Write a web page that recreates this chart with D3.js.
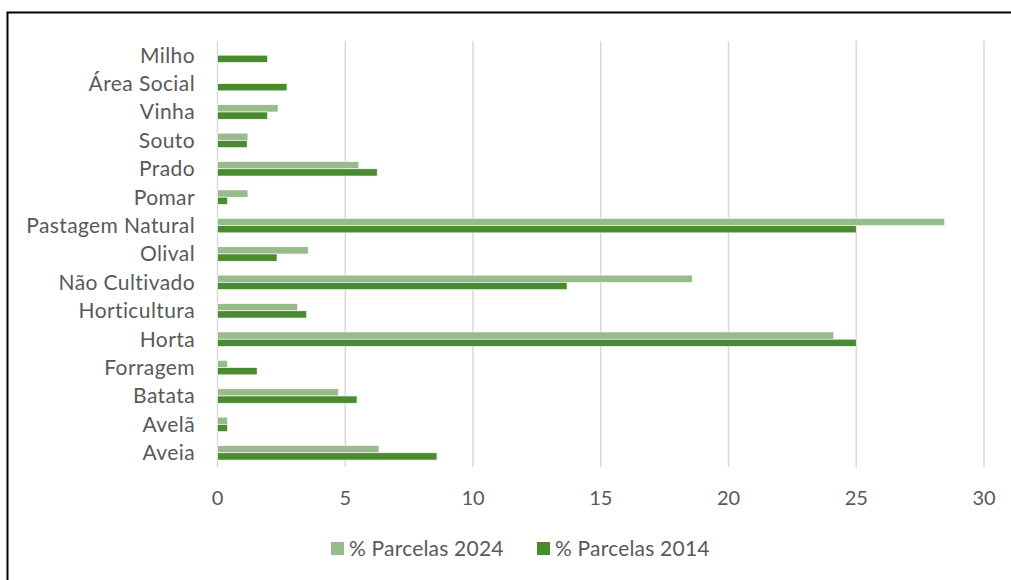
<!DOCTYPE html>
<html>
<head>
<meta charset="utf-8">
<script src="https://cdn.jsdelivr.net/npm/d3@7"></script>
<style>
  html, body { margin: 0; padding: 0; background: #fff; }
  svg { display: block; }
  text { font-family: "Lato", "Open Sans", sans-serif; fill: #595959; }
</style>
</head>
<body>
<svg id="chart" width="1011" height="580"></svg>
<script>
const categories = ["Milho", "Área Social", "Vinha", "Souto", "Prado", "Pomar", "Pastagem Natural", "Olival", "Não Cultivado", "Horticultura", "Horta", "Forragem", "Batata", "Avelã", "Aveia"];
const parcelas2024 = [0, 0, 2.37, 1.19, 5.53, 1.19, 28.46, 3.55, 18.58, 3.14, 24.12, 0.39, 4.74, 0.39, 6.32];
const parcelas2014 = [1.96, 2.72, 1.96, 1.16, 6.25, 0.39, 25.0, 2.33, 13.68, 3.49, 25.0, 1.55, 5.46, 0.39, 8.59];
const xTicks = [0, 5, 10, 15, 20, 25, 30];
const seriesNames = ["% Parcelas 2024", "% Parcelas 2014"];
const seriesColors = ["#97bb8b", "#4a8b32"];

(function () {
const svg = d3.select("#chart");

// outer frame
svg.append("path")
  .attr("d", "M7.5,580 L7.5,12.5 L1011,12.5")
  .attr("fill", "none").attr("stroke", "#000").attr("stroke-width", 2);

const pLeft = 217.5, pRight = 984, pTop = 41, pBottom = 467;
const x = d3.scaleLinear().domain([0, 30]).range([pLeft, pRight]);
const y = d3.scaleBand().domain(categories).range([pTop, pBottom]).paddingInner(0).paddingOuter(0);
const inner = d3.scaleBand().domain([0, 1]).range([y.bandwidth() * 0.245, y.bandwidth() * 0.755]);

// gridlines
svg.append("g").selectAll("line").data(xTicks).join("line")
  .attr("x1", d => x(d)).attr("x2", d => x(d))
  .attr("y1", pTop).attr("y2", pBottom)
  .attr("stroke", "#d9d9d9").attr("stroke-width", 1.5);

const series = [parcelas2024, parcelas2014];
series.forEach((vals, si) => {
  svg.append("g").selectAll("rect").data(categories).join("rect")
    .attr("x", x(0))
    .attr("y", (c) => y(c) + inner(si))
    .attr("width", (c, i) => Math.max(0, x(vals[i]) - x(0)))
    .attr("height", inner.bandwidth())
    .attr("fill", seriesColors[si])
    .attr("stroke", (c, i) => vals[i] > 0 ? "#fff" : "none")
    .attr("stroke-width", 0.6);
});

// category labels
svg.append("g").selectAll("text").data(categories).join("text")
  .attr("x", 195)
  .attr("y", c => y(c) + y.bandwidth() / 2)
  .attr("dy", "0.35em")
  .attr("text-anchor", "end")
  .attr("font-size", 21)
  .attr("letter-spacing", 0.4)
  .text(c => c);

// x tick labels
svg.append("g").selectAll("text").data(xTicks).join("text")
  .attr("x", d => x(d))
  .attr("y", 505)
  .attr("text-anchor", "middle")
  .attr("font-size", 20)
  .text(d => d);

// legend
const legendX = [331, 537];
seriesNames.forEach((name, i) => {
  const g = svg.append("g").attr("transform", `translate(${legendX[i]},549)`);
  g.append("rect").attr("x", 0).attr("y", -7).attr("width", 13).attr("height", 13).attr("fill", seriesColors[i]);
  g.append("text").attr("x", 18).attr("y", 0).attr("dy", "0.35em").attr("font-size", 21)
    .attr("letter-spacing", 0.2).text(name);
});
})();
</script>
</body>
</html>
